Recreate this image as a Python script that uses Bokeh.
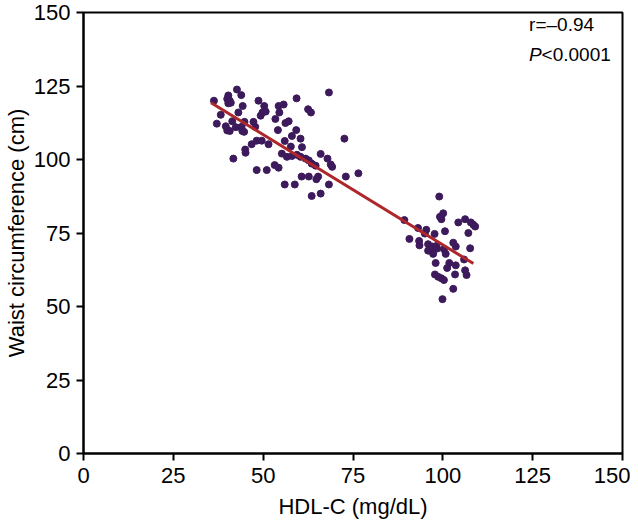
from bokeh.plotting import figure
from bokeh.models import Range1d, FixedTicker, Label
from bokeh.embed import file_html
from bokeh.resources import INLINE

# HDL-C (mg/dL) and waist circumference (cm)
hdl_upper = [36.3, 42.7, 43.9, 40.3, 40.0, 40.7, 41.0, 40.3, 44.3, 48.7, 50.3, 43.1, 38.2, 41.4,
             37.1, 39.6, 40.0, 40.7, 42.4, 44.0, 44.8, 44.2, 44.7, 47.3, 47.8, 49.8, 50.7, 49.3,
             54.3, 55.7, 54.5, 59.3, 68.3, 62.5, 63.3, 53.4, 56.2, 57.1, 54.1, 59.2, 58.0, 60.4,
             72.6, 46.8, 48.2, 49.6, 51.5, 45.0, 45.1, 41.7, 56.0, 57.7, 60.8, 55.2, 56.6, 58.0,
             59.4, 60.4, 61.8, 62.7, 63.5, 64.6, 66.0, 67.9, 68.8, 69.2, 48.2, 51.0, 53.2, 54.3,
             60.7, 62.7, 65.3, 64.8, 73.0, 76.5, 56.0, 58.8, 68.3, 63.5, 66.0]
waist_upper = [120.0, 123.8, 121.9, 121.8, 120.6, 120.0, 119.3, 119.1, 118.2, 120.0, 118.2, 116.0,
               115.2, 113.0, 112.2, 111.3, 109.9, 109.7, 111.0, 111.1, 112.8, 109.7, 109.4, 112.8,
               111.1, 116.0, 116.3, 114.9, 118.2, 118.7, 116.0, 120.8, 122.8, 117.1, 116.0, 113.8,
               112.4, 113.0, 110.0, 110.0, 108.0, 107.1, 107.1, 105.2, 106.4, 106.4, 105.2, 103.4,
               102.3, 100.3, 106.3, 104.4, 104.2, 102.0, 100.9, 101.2, 101.6, 100.9, 100.3, 99.7,
               98.6, 97.9, 101.9, 100.3, 98.3, 97.5, 96.4, 96.4, 98.1, 97.2, 94.2, 94.2, 94.2,
               93.3, 94.2, 95.3, 91.5, 91.5, 91.5, 87.6, 88.4]
hdl_lower = [99.0, 100.1, 99.2, 99.6, 104.3, 106.2, 107.8, 108.5, 109.0, 107.1, 100.6, 89.3,
             93.1, 95.4, 95.0, 97.7, 90.7, 93.4, 93.5, 95.9, 96.4, 97.1, 98.2, 98.4, 95.9, 97.3,
             100.3, 102.9, 103.6, 107.6, 100.8, 105.9, 98.0, 101.8, 103.6, 101.2, 106.2, 106.6,
             103.4, 97.8, 98.7, 99.6, 100.3, 102.9, 99.9]
waist_lower = [87.4, 81.7, 80.5, 79.7, 78.6, 79.7, 78.6, 77.8, 77.2, 75.0, 75.6, 79.4, 76.7,
               76.1, 74.8, 74.7, 73.0, 72.3, 70.8, 71.2, 69.5, 70.4, 70.6, 69.7, 69.0, 67.9,
               69.5, 71.7, 70.4, 69.8, 67.9, 66.0, 64.8, 64.8, 64.0, 63.1, 62.3, 60.7, 60.9,
               60.9, 60.1, 59.6, 59.0, 56.0, 52.5]
fit_x = [35.5, 108.5]
fit_y = [119.3, 64.6]
ticks = [0, 25, 50, 75, 100, 125, 150]

FONT = "Liberation Sans"
p = figure(width=630, height=521, output_backend="svg", toolbar_location=None,
           x_range=Range1d(0, 150), y_range=Range1d(0, 150),
           min_border_left=82, min_border_right=8, min_border_top=12, min_border_bottom=60)
p.xgrid.visible = False
p.ygrid.visible = False
p.outline_line_color = "black"
p.outline_line_width = 2
p.outline_line_alpha = 1

for ax in (p.xaxis[0], p.yaxis[0]):
    ax.ticker = FixedTicker(ticks=ticks)
    ax.axis_line_width = 2
    ax.major_tick_line_width = 2
    ax.major_tick_out = 7
    ax.major_tick_in = 0
    ax.minor_tick_line_color = None
    ax.major_label_text_font = FONT
    ax.major_label_text_font_size = "22px"
    ax.major_label_text_color = "black"
    ax.axis_label_text_font = FONT
    ax.axis_label_text_font_size = "22px"
    ax.axis_label_text_font_style = "normal"
    ax.axis_label_text_color = "black"

p.xaxis.axis_label = "HDL-C (mg/dL)"
p.yaxis.axis_label = "Waist circumference (cm)"
p.xaxis.major_label_standoff = 7
p.xaxis.axis_label_standoff = 8
p.yaxis.major_label_standoff = 6
p.yaxis.axis_label_standoff = 2

dot = "#3d1a5b"
p.scatter(hdl_upper, waist_upper, size=7, color=dot)
p.scatter(hdl_lower, waist_lower, size=7, color=dot)
p.line(fit_x, fit_y, line_color="#ad272b", line_width=3)

p.add_layout(Label(x=124, y=142.5, text="r=\u20130.94", text_font=FONT,
                   text_font_size="19px", text_color="black"))
p.add_layout(Label(x=124, y=132, text="P", text_font=FONT, text_font_style="italic",
                   text_font_size="19px", text_color="black"))
p.add_layout(Label(x=124, y=132, x_offset=12.5, text="<0.0001", text_font=FONT,
                   text_font_size="19px", text_color="black"))

open("out.html", "w").write(file_html(p, INLINE))
